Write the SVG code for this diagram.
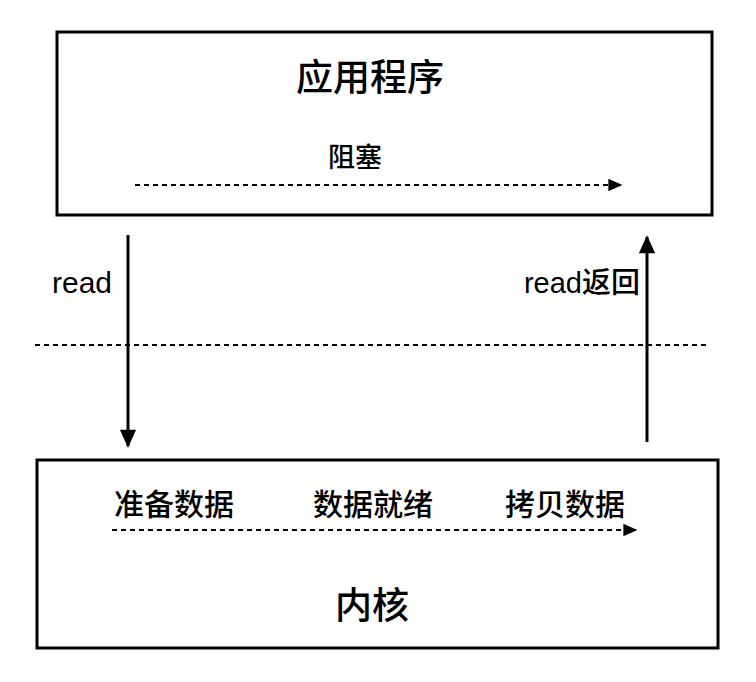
<svg xmlns="http://www.w3.org/2000/svg" width="756" height="682" viewBox="0 0 756 682">
<defs>
<style>
.box{fill:#fff;stroke:#000;stroke-width:3}
.t{font-family:"Liberation Sans","Noto Sans CJK SC",sans-serif;fill:#000;font-weight:500}
.dash{stroke:#000;stroke-width:2.2;stroke-dasharray:5 4;fill:none}
.solid{stroke:#000;stroke-width:3;fill:none}
</style>
<marker id="ahs" viewBox="0 0 10 10" refX="9" refY="5" markerWidth="16" markerHeight="14" markerUnits="userSpaceOnUse" orient="auto"><path d="M0,0.5 L10,5 L0,9.5 z" fill="#000"/></marker>
<marker id="ahb" viewBox="0 0 10 10" refX="9" refY="5" markerWidth="20" markerHeight="18" markerUnits="userSpaceOnUse" orient="auto"><path d="M0,0.5 L10,5 L0,9.5 z" fill="#000"/></marker>
</defs>
<rect width="756" height="682" fill="#fff"/>
<g id="app">
<rect class="box" x="57" y="32" width="655" height="183"/>
<text class="t" x="370" y="91" font-size="37" text-anchor="middle">应用程序</text>
<text class="t" x="355" y="167" font-size="27" text-anchor="middle">阻塞</text>
</g>
<g id="kernel">
<rect class="box" x="37" y="460" width="681" height="188"/>
<text class="t" x="174" y="515" font-size="30" text-anchor="middle">准备数据</text>
<text class="t" x="373" y="515" font-size="30" text-anchor="middle">数据就绪</text>
<text class="t" x="565" y="515" font-size="30" text-anchor="middle">拷贝数据</text>
<text class="t" x="372" y="619" font-size="37" text-anchor="middle">内核</text>
</g>
<g id="connectors">
<line class="dash" x1="135" y1="185" x2="621" y2="185" marker-end="url(#ahs)"/>
<line class="dash" x1="112" y1="530" x2="636" y2="530" marker-end="url(#ahs)"/>
<line class="dash" x1="35" y1="345" x2="710" y2="345"/>
<line class="solid" x1="128" y1="235" x2="128" y2="446" marker-end="url(#ahb)"/>
<line class="solid" x1="647" y1="442" x2="647" y2="237" marker-end="url(#ahb)"/>
<text class="t" x="52" y="293" font-size="29" textLength="60" lengthAdjust="spacingAndGlyphs">read</text>
<text class="t" x="640" y="293" font-size="29" text-anchor="end">read返回</text>
</g>
</svg>
